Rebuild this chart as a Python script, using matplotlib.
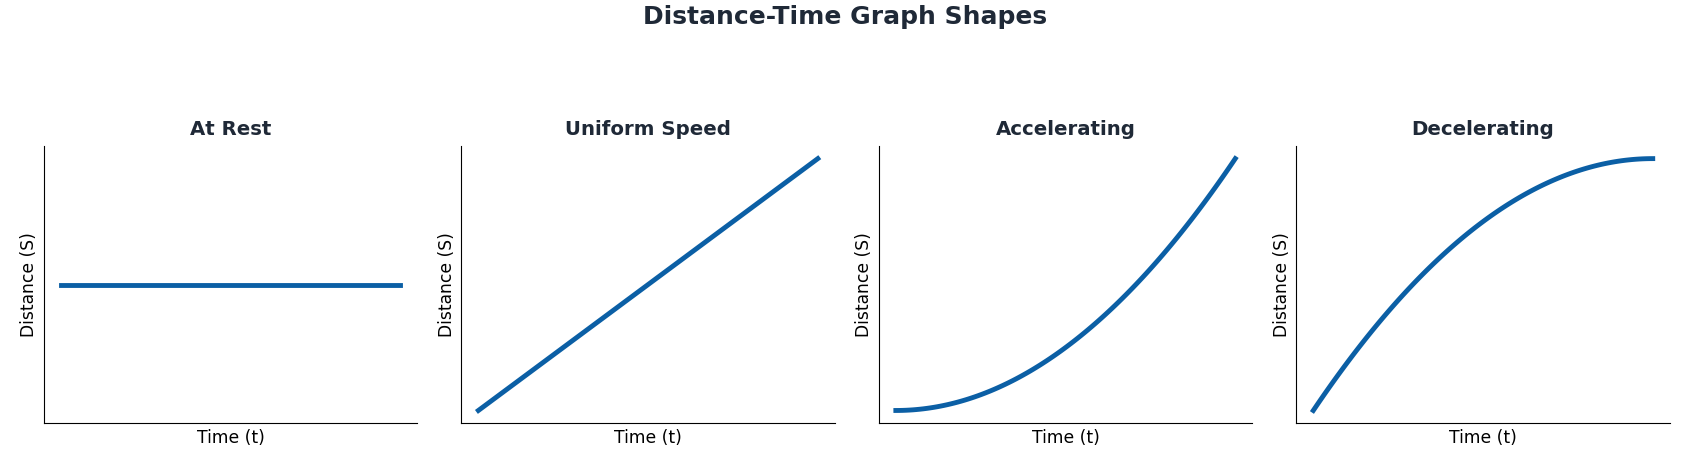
import numpy as np
import matplotlib
matplotlib.use("Agg")
import matplotlib.pyplot as plt

# one panel per kind of motion
titles = ["At Rest", "Uniform Speed", "Accelerating", "Decelerating"]
t = np.linspace(0, 10, 100)
s_rest = np.full_like(t, 5.0)
s_uniform = t
s_accel = t ** 2
s_decel = 20 * t - t ** 2
series = [s_rest, s_uniform, s_accel, s_decel]

line_color = "#0b5fa5"
title_color = "#1f2937"

fig, axes = plt.subplots(1, 4, figsize=(16.9, 4.68), dpi=100)
fig.subplots_adjust(left=0.026, right=0.988, bottom=0.096, top=0.688, wspace=0.118)

for ax, title, s in zip(axes, titles, series):
    ax.plot(t, s, color=line_color, linewidth=3.5)
    ax.set_title(title, fontsize=14.2, fontweight="bold", color=title_color, pad=8)
    ax.set_xlabel("Time (t)", fontsize=12.3)
    ax.set_ylabel("Distance (S)", fontsize=12.3)
    ax.set_xticks([])
    ax.set_yticks([])
    ax.spines["top"].set_visible(False)
    ax.spines["right"].set_visible(False)

fig.suptitle("Distance-Time Graph Shapes", fontsize=18, fontweight="bold",
             color=title_color, y=0.99)

fig.savefig("out.png", dpi=100)
